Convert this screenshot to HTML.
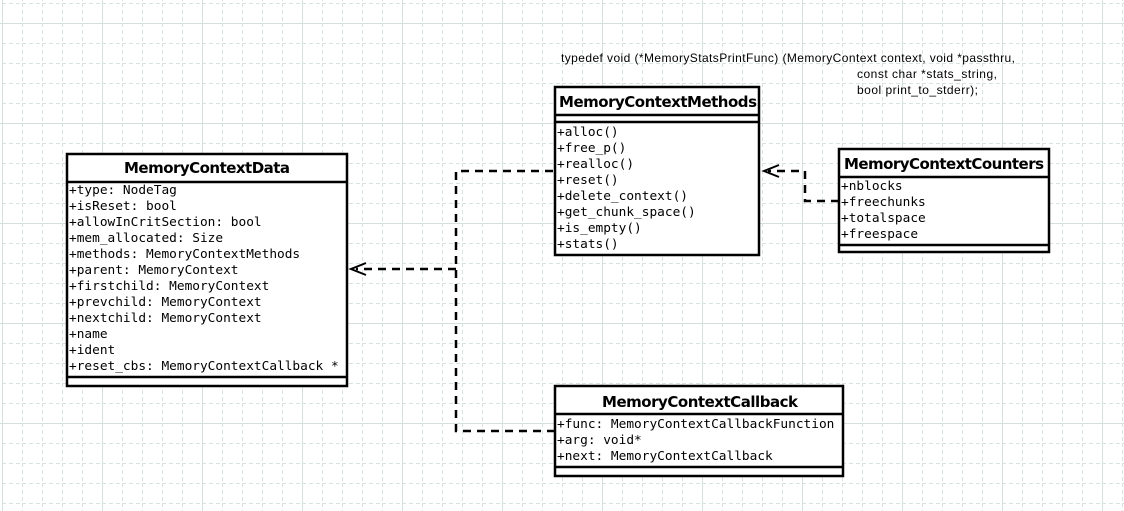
<!DOCTYPE html>
<html><head><meta charset="utf-8"><style>
html,body{margin:0;padding:0;background:#fff;}
svg{display:block}
.t{font-family:"DejaVu Sans","Liberation Sans",sans-serif;font-weight:bold;font-size:15px;}
.m{font-family:"DejaVu Sans Mono","Liberation Mono",monospace;font-size:12.8px;}
.s{font-family:"Liberation Sans","DejaVu Sans",sans-serif;font-size:12px;}
</style></head><body>
<svg width="1124" height="511" xmlns="http://www.w3.org/2000/svg">
<defs>
<pattern id="minor" x="2" y="3" width="20" height="20" patternUnits="userSpaceOnUse">
<path d="M0 0.5H20" stroke="#d6e3e0" stroke-dasharray="4 3"/>
<path d="M0.5 0V20" stroke="#d6e3e0" stroke-dasharray="4 3"/>
</pattern>
<pattern id="major" x="2" y="23" width="100" height="100" patternUnits="userSpaceOnUse">
<path d="M0 0.5H100M0.5 0V100" stroke="#d3e0de" fill="none"/>
</pattern>
</defs>
<rect width="1124" height="511" fill="#fff"/>
<rect width="1124" height="511" fill="url(#minor)"/>
<rect width="1124" height="511" fill="url(#major)"/>

<g class="s" fill="#000">
<text x="561" y="62" textLength="454">typedef void (*MemoryStatsPrintFunc) (MemoryContext context, void *passthru,</text>
<text x="857" y="78" textLength="140">const char *stats_string,</text>
<text x="857" y="94" textLength="121">bool print_to_stderr);</text>
</g>

<!-- connectors -->
<g stroke="#000" stroke-width="2.5" fill="none" stroke-dasharray="8 6">
<path d="M555 431H456V171H553"/>
<path d="M456 269H356"/>
<path d="M839 201H805V171H768"/>
</g>
<g stroke="#000" stroke-width="2" fill="none">
<path d="M366 263L351 269L366 275"/>
<path d="M779 165L764 171L779 177"/>
</g>

<g stroke="#000" stroke-width="2.5" fill="#fff">
<!-- Data -->
<rect x="67" y="154" width="280" height="232"/>
<path d="M67 182H347M67 377H347" fill="none"/>
<!-- Methods -->
<rect x="555" y="87" width="204" height="168"/>
<path d="M555 115H759M555 122H759" fill="none"/>
<!-- Counters -->
<rect x="839" y="149" width="210" height="103"/>
<path d="M839 177H1049M839 245H1049" fill="none"/>
<!-- Callback -->
<rect x="555" y="386" width="288" height="90"/>
<path d="M555 414H843M555 467H843" fill="none"/>
</g>

<g class="t" fill="#000" text-anchor="middle">
<text x="207" y="173" textLength="166">MemoryContextData</text>
<text x="658" y="107" textLength="198">MemoryContextMethods</text>
<text x="944" y="169" textLength="200">MemoryContextCounters</text>
<text x="700" y="407" textLength="196">MemoryContextCallback</text>
</g>

<g class="m" fill="#000">
<text x="69" y="194">+type: NodeTag</text>
<text x="69" y="210">+isReset: bool</text>
<text x="69" y="226">+allowInCritSection: bool</text>
<text x="69" y="242">+mem_allocated: Size</text>
<text x="69" y="258">+methods: MemoryContextMethods</text>
<text x="69" y="274">+parent: MemoryContext</text>
<text x="69" y="290">+firstchild: MemoryContext</text>
<text x="69" y="306">+prevchild: MemoryContext</text>
<text x="69" y="322">+nextchild: MemoryContext</text>
<text x="69" y="338">+name</text>
<text x="69" y="354">+ident</text>
<text x="69" y="370">+reset_cbs: MemoryContextCallback *</text>

<text x="557" y="136">+alloc()</text>
<text x="557" y="152">+free_p()</text>
<text x="557" y="168">+realloc()</text>
<text x="557" y="184">+reset()</text>
<text x="557" y="200">+delete_context()</text>
<text x="557" y="216">+get_chunk_space()</text>
<text x="557" y="232">+is_empty()</text>
<text x="557" y="248">+stats()</text>

<text x="841" y="190">+nblocks</text>
<text x="841" y="206">+freechunks</text>
<text x="841" y="222">+totalspace</text>
<text x="841" y="238">+freespace</text>

<text x="557" y="428">+func: MemoryContextCallbackFunction</text>
<text x="557" y="444">+arg: void*</text>
<text x="557" y="460">+next: MemoryContextCallback</text>
</g>
</svg>
</body></html>
